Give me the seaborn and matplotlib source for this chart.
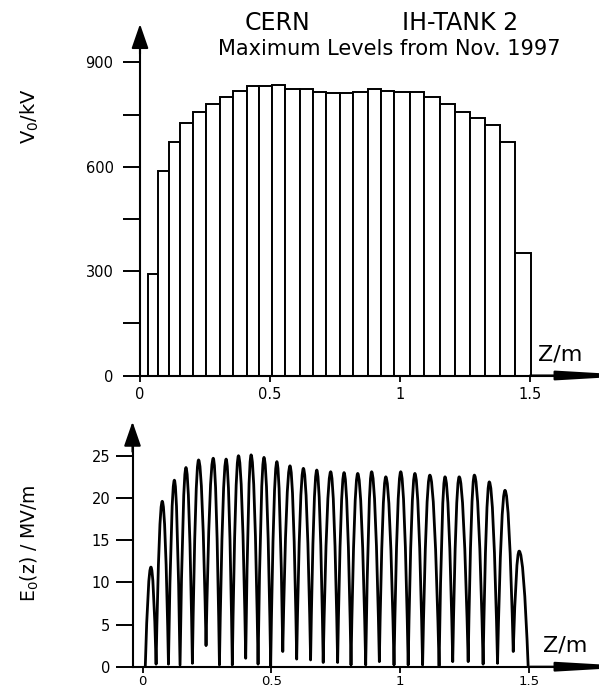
import matplotlib
matplotlib.use('Agg')
import matplotlib.pyplot as plt
from matplotlib.path import Path
from matplotlib.patches import PathPatch
import numpy as np
import seaborn as sns

# top panel: max. gap voltage per cell, bars given by their edges in m
bar_edges = [0.029, 0.068, 0.110, 0.155, 0.202, 0.254, 0.308, 0.359, 0.410, 0.459,
             0.506, 0.558, 0.613, 0.664, 0.715, 0.769, 0.820, 0.876, 0.927, 0.978,
             1.038, 1.093, 1.154, 1.209, 1.267, 1.324, 1.382, 1.440, 1.501]
gap_voltage = [291, 588, 672, 725, 758, 780, 801, 818, 832, 832,
               835, 823, 823, 814, 811, 811, 816, 822, 818, 816,
               816, 801, 779, 756, 741, 720, 670, 351]
v_ticks = [0, 300, 600, 900]
v_minor = [150, 450, 750]

trough_z = [0.010, 0.052, 0.100, 0.145, 0.193, 0.246, 0.298, 0.348, 0.400, 0.448,
            0.497, 0.544, 0.598, 0.652, 0.701, 0.757, 0.809, 0.866, 0.919, 0.976,
            1.031, 1.087, 1.151, 1.204, 1.264, 1.322, 1.378, 1.439, 1.497]
trough_E = [0.0, 0.3, 0.3, 0.2, 0.4, 2.5, 0.2, 0.2, 1.0, 0.3,
            0.1, 1.8, 0.9, 0.8, 0.5, 0.5, 0.2, 0.2, 0.6, 0.2,
            0.2, 0.2, 0.1, 0.6, 0.6, 0.3, 0.4, 1.8, 0.0]
peak_z = [0.032, 0.076, 0.123, 0.168, 0.217, 0.274, 0.324, 0.372, 0.421, 0.471,
          0.521, 0.572, 0.624, 0.676, 0.730, 0.782, 0.835, 0.889, 0.944, 1.002,
          1.057, 1.115, 1.174, 1.229, 1.288, 1.346, 1.407, 1.462]
peak_E = [11.8, 19.6, 22.1, 23.6, 24.5, 24.7, 24.6, 25.0, 25.1, 24.8,
          24.3, 23.8, 23.5, 23.3, 23.1, 23.0, 22.9, 23.1, 22.5, 23.1,
          22.9, 22.7, 22.5, 22.5, 22.7, 21.9, 20.9, 13.7]
e_ticks = [0, 5, 10, 15, 20, 25]

z_ticks = [0, 0.5, 1, 1.5]
z_labels = ['0', '0.5', '1', '1.5']

sns.set_theme(style='white')
plt.rcParams['font.family'] = ['DejaVu Sans']

W, H = 599, 688
fig = plt.figure(figsize=(W / 100, H / 100), dpi=100)


def px_axes(left, top, right, bottom):
    return fig.add_axes([left / W, 1 - bottom / H, (right - left) / W, (bottom - top) / H])


def style_axes(ax, left, top, right, bottom, ypad, xpad, xsize):
    for s in ['top', 'right']:
        ax.spines[s].set_visible(False)
    for s in ['left', 'bottom']:
        ax.spines[s].set_color('black')
        ax.spines[s].set_linewidth(1.5)
    ax.tick_params(axis='y', which='both', left=True, direction='out', length=12,
                   width=1.4, pad=ypad, labelsize=10.5, colors='black')
    ax.tick_params(axis='x', which='both', bottom=True, direction='out', length=4.5,
                   width=1.3, pad=xpad, labelsize=xsize, colors='black')
    ax.set_xticks(z_ticks)
    ax.set_xticklabels(z_labels)
    ax.set_xlabel('')
    ax.set_ylabel('')
    w, h = right - left, bottom - top
    x0, x1 = ax.get_xlim()
    y0, y1 = ax.get_ylim()
    # spines stop where the arrow heads start
    ax.spines['left'].set_bounds(y0, y0 + (y1 - y0) * (1 - 22 / h))
    ax.spines['bottom'].set_bounds(x0, x0 + (x1 - x0) * (559 - left) / w)
    arrow = dict(color='black', lw=1.5, shrinkA=0, shrinkB=0)
    ax.annotate('', xy=(0, 1), xycoords='axes fraction',
                xytext=(0, 1 - 30 / h),
                arrowprops=dict(arrowstyle='-|>,head_length=1.5,head_width=0.52',
                                mutation_scale=10, **arrow), annotation_clip=False)
    ax.annotate('', xy=((640 - left) / w, 0), xycoords='axes fraction',
                xytext=((530 - left) / w, 0),
                arrowprops=dict(arrowstyle='-|>,head_length=4.85,head_width=0.28',
                                mutation_scale=10, **arrow), annotation_clip=False)


# ---- top: voltages ----
ax1 = px_axes(140, 24, 599, 375.5)
centers = [(a + b) / 2 for a, b in zip(bar_edges[:-1], bar_edges[1:])]
sns.histplot(x=centers, weights=gap_voltage, bins=bar_edges, ax=ax1,
             color='white', edgecolor='black', linewidth=1.4, alpha=1)
ax1.set_xlim(0, (599 - 140) / 260.2)
ax1.set_ylim(0, (375.5 - 24) / 0.348)
ax1.set_yticks(v_ticks)
ax1.set_yticks(v_minor, minor=True)
style_axes(ax1, 140, 24, 599, 375.5, ypad=7, xpad=4, xsize=10.5)

# ---- bottom: field ----
ax2 = px_axes(132.5, 421.7, 599, 666.7)
verts = [(trough_z[0], trough_E[0])]
codes = [Path.MOVETO]
for i, (zp, ep) in enumerate(zip(peak_z, peak_E)):
    za, zb = trough_z[i], trough_z[i + 1]
    # each gap lobe is drawn as two parabolic arcs meeting at the peak
    verts += [((za + zp) / 2, ep), (zp, ep), ((zp + zb) / 2, ep), (zb, trough_E[i + 1])]
    codes += [Path.CURVE3] * 4
ax2.add_patch(PathPatch(Path(verts, codes), facecolor='none', edgecolor='black',
                        lw=2.0, joinstyle='round'))
ax2.set_xlim(-(142.7 - 132.5) / 257.5, (599 - 142.7) / 257.5)
ax2.set_ylim(0, (666.7 - 421.7) / 8.44)
ax2.set_yticks(e_ticks)
style_axes(ax2, 132.5, 421.7, 599, 666.7, ypad=4, xpad=1.5, xsize=9.5)

# ---- texts ----
fig.text(277 / W, 1 - 23 / H, 'CERN', ha='center', va='center', fontsize=17, color='black')
fig.text(460 / W, 1 - 23 / H, 'IH-TANK 2', ha='center', va='center', fontsize=17, color='black')
fig.text(389 / W, 1 - 49 / H, 'Maximum Levels from Nov. 1997', ha='center', va='center',
         fontsize=15, color='black')
fig.text(30 / W, 1 - 116 / H, r'$\mathregular{V_0}$/kV', rotation=90, ha='center',
         va='center', fontsize=14, color='black')
fig.text(30 / W, 1 - 543 / H, r'$\mathregular{E_0}$(z) / MV/m', rotation=90, ha='center',
         va='center', fontsize=13.5, color='black')
fig.text(538 / W, 1 - 355 / H, 'Z/m', ha='left', va='center', fontsize=16, color='black')
fig.text(543 / W, 1 - 645.5 / H, 'Z/m', ha='left', va='center', fontsize=16, color='black')

fig.savefig('out.png', dpi=100)
